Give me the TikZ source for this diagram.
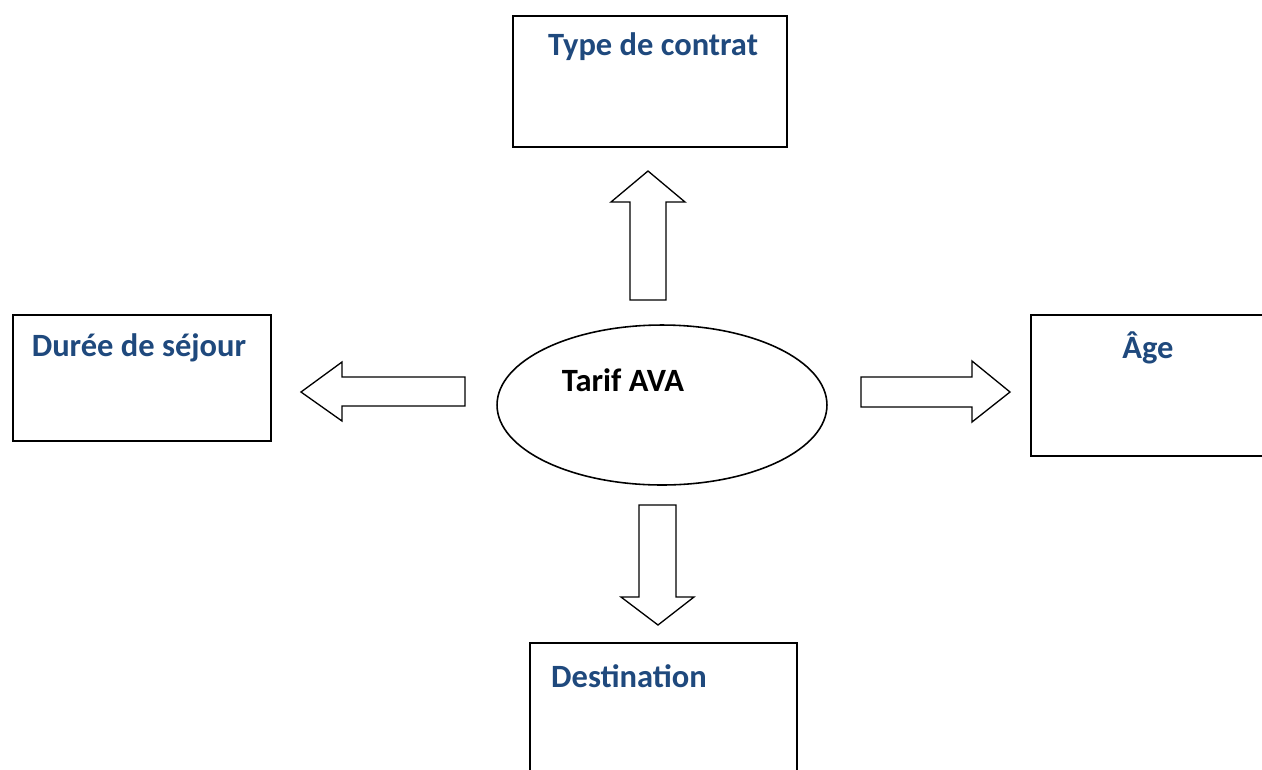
\documentclass[tikz,border=0pt]{standalone}
\usepackage{fontspec}
\setmainfont{Carlito}
\usetikzlibrary{shapes.geometric}
\definecolor{titolo}{HTML}{1F497D}
\tikzset{
  riquadro/.style={draw, line width=1.1pt, inner sep=0pt},
  etichetta/.style={font=\fontsize{18.5}{22}\selectfont\bfseries, text=titolo, inner sep=0pt},
  freccia/.style={draw, line width=0.75pt, line join=miter, fill=white}
}
\begin{document}
\begin{tikzpicture}[x=0.02cm, y=-0.02cm]
    \useasboundingbox (0,0) rectangle (1262,769);
    \clip (0,0) rectangle (1262,769);
    % Riquadri
    \node [riquadro, minimum width=5.48cm, minimum height=2.62cm] (contratto) at (650,81.5) {};
    \node [riquadro, minimum width=5.16cm, minimum height=2.52cm] (durata) at (142,378) {};
    \node [riquadro, minimum width=4.70cm, minimum height=2.82cm] (eta) at (1148.5,385.5) {};
    \node [riquadro, minimum width=5.34cm, minimum height=2.94cm] (destinazione) at (663.5,716.5) {};
    \node [draw, ellipse, line width=0.9pt, inner sep=0pt, minimum width=6.6cm, minimum height=3.2cm] (tariffa) at (662,405) {};
    % Scritte
    \node [etichetta] at (653,47) {Type de contrat};
    \node [etichetta] at (139,348) {Durée de séjour};
    \node [etichetta] at (1148,348) {Âge};
    \node [etichetta] at (629,676) {Destination};
    \node [etichetta, text=black] at (623,380) {Tarif AVA};
    % Frecce
    \draw [freccia] (630,300) -- (630,202) -- (611,202) -- (648,171) -- (685,202) -- (666,202) -- (666,300) -- cycle; % su
    \draw [freccia] (465,377) -- (342,377) -- (342,362) -- (301,392) -- (342,421) -- (342,406) -- (465,406) -- cycle; % sinistra
    \draw [freccia] (861,377) -- (972,377) -- (972,361) -- (1010,392) -- (972,422) -- (972,407) -- (861,407) -- cycle; % destra
    \draw [freccia] (639,505) -- (639,597) -- (621,597) -- (658,625) -- (694,597) -- (676,597) -- (676,505) -- cycle; % giu
\end{tikzpicture}
\end{document}
